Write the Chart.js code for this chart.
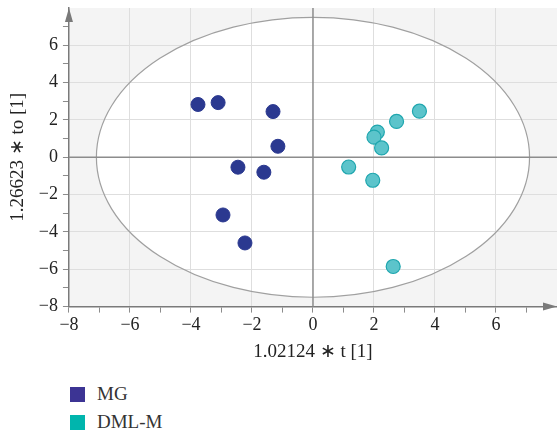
<!DOCTYPE html>
<html>
<head>
<meta charset="utf-8">
<title>OPLS-DA score plot</title>
<script src="https://cdn.jsdelivr.net/npm/chart.js@4.4.0/dist/chart.umd.min.js"></script>
<style>
  html, body { margin: 0; overflow: hidden; }
  body { background: #fff; font-family: "Liberation Serif", "DejaVu Serif", serif; }
  .chart-box { position: relative; width: 557px; height: 363px; }
  .legend { margin: 17px 0 0 70px; }
  .legend__item { display: flex; align-items: center; height: 28px; font-size: 19px; color: #333; }
  .legend__box { width: 15px; height: 15px; margin-right: 12px; }
</style>
</head>
<body>
<div class="chart-box"><canvas id="scoreChart"></canvas></div>
<div class="legend">
  <div class="legend__item"><span class="legend__box" style="background:#3c3494"></span>MG</div>
  <div class="legend__item"><span class="legend__box" style="background:#00b5ad"></span>DML-M</div>
</div>
<script>
const seriesNames = ['MG', 'DML-M'];
const mgX = [-3.77, -3.11, -1.31, -1.15, -2.46, -1.61, -2.95, -2.23];
const mgY = [2.83, 2.93, 2.45, 0.59, -0.53, -0.80, -3.09, -4.59];
const dmlX = [3.49, 2.74, 2.11, 2.00, 2.25, 1.17, 1.96, 2.63];
const dmlY = [2.47, 1.92, 1.35, 1.08, 0.50, -0.52, -1.23, -5.85];
const tickValues = [-8, -6, -4, -2, 0, 2, 4, 6];
const ellipseRadius = [7.1, 7.5]; // Hotelling T2 ellipse, in t / to units

const toPoints = (xs, ys) => xs.map((v, i) => ({ x: v, y: ys[i] }));
const tickLabel = (v) => {
  if (v >= 8) return null; // arrow end, no tick
  return tickValues.includes(v) ? (v < 0 ? '\u2212' + Math.abs(v) : String(v)) : '';
};

const gridColor = (c) => {
  const v = c.tick.value;
  if (v === 0) return 'rgba(0,0,0,0)';
  return (v % 2 === 0 && Math.abs(v) < 8) ? '#dedede' : 'rgba(0,0,0,0)';
};

const plotBackground = {
  id: 'plotBackground',
  beforeDraw(chart) {
    const { ctx, chartArea: a, scales: { x, y } } = chart;
    ctx.save();
    ctx.fillStyle = '#f4f4f4';
    ctx.fillRect(a.left, a.top, a.width, a.height);
    const cx = x.getPixelForValue(0);
    const cy = y.getPixelForValue(0);
    const rx = x.getPixelForValue(ellipseRadius[0]) - cx;
    const ry = cy - y.getPixelForValue(ellipseRadius[1]);
    ctx.beginPath();
    ctx.ellipse(cx, cy, rx, ry, 0, 0, Math.PI * 2);
    ctx.fillStyle = '#fff';
    ctx.fill();
    ctx.restore();
  },
  beforeDatasetsDraw(chart) {
    const { ctx, chartArea: a, scales: { x, y } } = chart;
    const cx = x.getPixelForValue(0);
    const cy = y.getPixelForValue(0);
    const rx = x.getPixelForValue(ellipseRadius[0]) - cx;
    const ry = cy - y.getPixelForValue(ellipseRadius[1]);
    ctx.save();
    // ellipse outline
    ctx.beginPath();
    ctx.ellipse(cx, cy, rx, ry, 0, 0, Math.PI * 2);
    ctx.strokeStyle = '#a0a0a0';
    ctx.lineWidth = 1.2;
    ctx.stroke();
    // zero lines
    ctx.strokeStyle = '#8c8c8c';
    ctx.lineWidth = 1.5;
    ctx.beginPath();
    ctx.moveTo(cx, a.top);
    ctx.lineTo(cx, a.bottom);
    ctx.moveTo(a.left, cy);
    ctx.lineTo(a.right, cy);
    ctx.stroke();
    // axis arrows
    ctx.fillStyle = '#7a7a7a';
    ctx.beginPath();
    ctx.moveTo(a.right, a.bottom);
    ctx.lineTo(a.right - 14, a.bottom - 4);
    ctx.lineTo(a.right - 14, a.bottom + 4);
    ctx.closePath();
    ctx.fill();
    ctx.beginPath();
    ctx.moveTo(a.left, a.top);
    ctx.lineTo(a.left - 4, a.top + 14);
    ctx.lineTo(a.left + 4, a.top + 14);
    ctx.closePath();
    ctx.fill();
    ctx.restore();
  }
};

const axisFont = { family: 'Liberation Serif', size: 18 };
const titleFont = { family: 'Liberation Serif', size: 19 };

new Chart(document.getElementById('scoreChart'), {
  type: 'scatter',
  data: {
    datasets: [{
      label: seriesNames[0],
      data: toPoints(mgX, mgY),
      backgroundColor: '#2b3990',
      borderColor: '#2b3990',
      pointRadius: 7,
      pointBorderWidth: 1
    }, {
      label: seriesNames[1],
      data: toPoints(dmlX, dmlY),
      backgroundColor: '#5cc4cb',
      borderColor: '#1fa6ae',
      pointRadius: 7,
      pointBorderWidth: 1.2
    }]
  },
  options: {
    responsive: true,
    maintainAspectRatio: false,
    animation: false,
    layout: { autoPadding: false, padding: { top: 8, right: 0, left: 7, bottom: 0 } },
    plugins: {
      legend: { display: false },
      tooltip: { enabled: false }
    },
    scales: {
      x: {
        type: 'linear',
        min: -8,
        max: 8,
        afterFit: (scale) => { scale.paddingRight = 0; },
        border: { color: '#7a7a7a', width: 1.5 },
        grid: { color: gridColor, tickColor: '#8c8c8c', tickLength: 6 },
        ticks: { stepSize: 1, autoSkip: false, maxRotation: 0, padding: 2, color: '#222', font: axisFont, callback: tickLabel },
        title: { display: true, text: '1.02124 \u2217 t [1]', color: '#222', font: titleFont, padding: { top: 2, bottom: 0 } }
      },
      y: {
        type: 'linear',
        min: -8,
        max: 8,
        afterFit: (scale) => { scale.paddingTop = 0; },
        border: { color: '#7a7a7a', width: 1.5 },
        grid: { color: gridColor, tickColor: '#8c8c8c', tickLength: 6 },
        ticks: { stepSize: 1, autoSkip: false, padding: 5, color: '#222', font: axisFont, callback: tickLabel },
        title: { display: true, text: '1.26623 \u2217 to [1]', color: '#222', font: titleFont, padding: { top: 0, bottom: 4 } }
      }
    }
  },
  plugins: [plotBackground]
});
</script>
</body>
</html>
